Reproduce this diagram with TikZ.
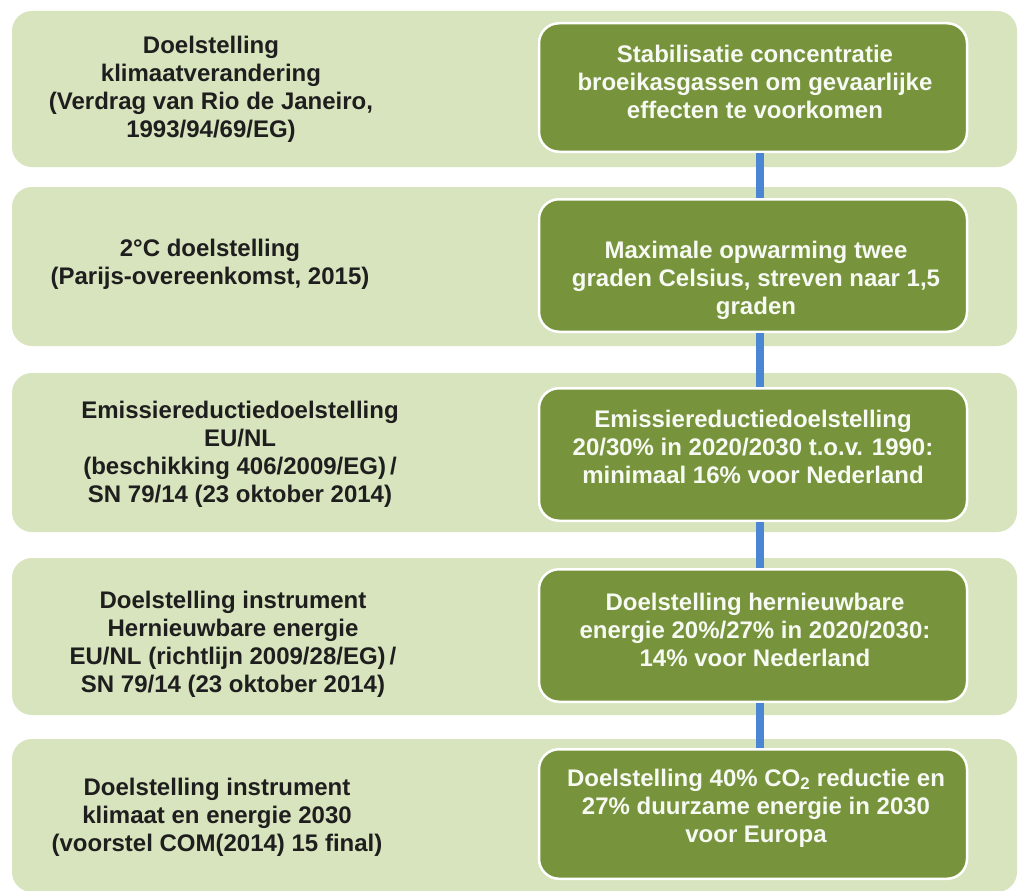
\documentclass[tikz,border=0pt]{standalone}
\usepackage{fontspec}
\setmainfont{Liberation Sans}
\definecolor{bgl}{HTML}{D7E4BD}
\definecolor{gdark}{HTML}{77933C}
\definecolor{conn}{HTML}{4A86D4}
\definecolor{txtdark}{HTML}{1E1E1E}
\begin{document}
\begin{tikzpicture}[x=1pt,y=-1pt,
  rowbg/.style={fill=bgl, draw=none, rounded corners=20pt, minimum width=1005pt, inner sep=0pt, outer sep=0pt},
  gbox/.style={draw=white, line width=2.5pt, fill=gdark, rounded corners=20pt, minimum width=428pt, inner sep=0pt},
  ltext/.style={text=txtdark, font=\bfseries\fontsize{24}{28}\selectfont, align=center, inner sep=0pt},
  gtext/.style={text=white!94!gdark, font=\bfseries\fontsize{24}{28}\selectfont, align=center, inner sep=0pt},
  connline/.style={draw=conn, line width=8pt}]
\useasboundingbox (0,0) rectangle (1018,891);
\fill[white] (0,0) rectangle (1018,891);
% row backgrounds
\node[rowbg, minimum height=156pt] (bg1) at (514.5,89) {};
\node[rowbg, minimum height=159pt] (bg2) at (514.5,266.5) {};
\node[rowbg, minimum height=159pt] (bg3) at (514.5,452.5) {};
\node[rowbg, minimum height=157pt] (bg4) at (514.5,636.5) {};
\node[rowbg, minimum height=153pt] (bg5) at (514.5,815.5) {};
% left texts
\node[ltext] (l1) at (211,89.5) {Doelstelling\\klimaatverandering\\(Verdrag van Rio de Janeiro,\\1993/94/69/EG)};
\node[ltext] (l2) at (210,264) {2°C doelstelling\\(Parijs-overeenkomst, 2015)};
\node[ltext] (l3) at (240,454) {Emissiereductiedoelstelling\\EU/NL\\(beschikking 406/2009/EG)\,/\\SN 79/14 (23 oktober 2014)};
\node[ltext] (l4) at (233,644) {Doelstelling instrument\\Hernieuwbare energie\\EU/NL (richtlijn 2009/28/EG)\,/\\SN 79/14 (23 oktober 2014)};
\node[ltext] (l5) at (217,817) {Doelstelling instrument\\klimaat en energie 2030\\(voorstel COM(2014) 15 final)};
% green boxes
\node[gbox, minimum height=128.5pt] (g1) at (753,87.5) {};
\node[gbox, minimum height=132.5pt] (g2) at (753,265.5) {};
\node[gbox, minimum height=132.5pt] (g3) at (753,454.5) {};
\node[gbox, minimum height=132.5pt] (g4) at (753,635.5) {};
\node[gbox, minimum height=129.5pt] (g5) at (753,814) {};
% green texts
\node[gtext] (t1) at (755,82) {Stabilisatie concentratie\\broeikasgassen om gevaarlijke\\effecten te voorkomen};
\node[gtext] (t2) at (756,280) {Maximale opwarming twee\\graden Celsius, streven naar 1,5\\graden};
\node[gtext] (t3) at (753,447) {Emissiereductiedoelstelling\\20/30\% in 2020/2030 t.o.v. 1990:\\minimaal 16\% voor Nederland};
\node[gtext] (t4) at (755,630) {Doelstelling hernieuwbare\\energie 20\%/27\% in 2020/2030:\\14\% voor Nederland};
\node[gtext] (t5) at (756,808) {Doelstelling 40\% CO\textsubscript{2} reductie en\\27\% duurzame energie in 2030\\voor Europa};
% connectors
\coordinate (cx) at (760,0);
\draw[connline] (g1.south -| cx) -- (g2.north -| cx);
\draw[connline] (g2.south -| cx) -- (g3.north -| cx);
\draw[connline] (g3.south -| cx) -- (g4.north -| cx);
\draw[connline] (g4.south -| cx) -- (g5.north -| cx);
\end{tikzpicture}
\end{document}
